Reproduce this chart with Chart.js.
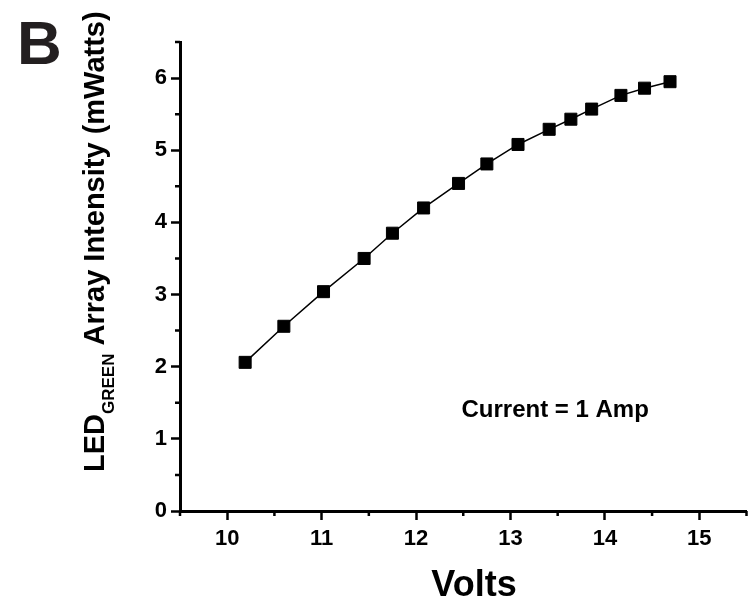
<!DOCTYPE html>
<html>
<head>
<meta charset="utf-8">
<script src="https://cdn.jsdelivr.net/npm/chart.js@4.4.1/dist/chart.umd.min.js"></script>
<style>
  html, body { margin: 0; padding: 0; background: #fff; overflow: hidden; }
  #wrap { position: relative; width: 756px; height: 601px; }
</style>
</head>
<body>
<div id="wrap"><canvas id="ledChart"></canvas></div>
<script>
// data
const volts = [10.19, 10.60, 11.02, 11.45, 11.75, 12.08, 12.45, 12.75, 13.08, 13.41, 13.64, 13.86, 14.17, 14.42, 14.69];
const intensity = [2.06, 2.56, 3.04, 3.50, 3.85, 4.20, 4.54, 4.81, 5.08, 5.29, 5.43, 5.57, 5.76, 5.86, 5.95];
const xTickLabels = [10, 11, 12, 13, 14, 15];
const yTickLabels = [0, 1, 2, 3, 4, 5, 6];

const FONT = '"Liberation Sans", Arial, sans-serif';

const points = volts.map((v, i) => ({ x: v, y: intensity[i] }));

// minor ticks, panel letter, axis titles, annotation
const extras = {
  id: 'extras',
  afterDraw(chart) {
    const { ctx, chartArea } = chart;
    const x = chart.scales.x, y = chart.scales.y;
    ctx.save();
    ctx.strokeStyle = '#000';
    ctx.lineWidth = 2.5;
    ctx.beginPath();
    x.ticks.forEach(t => {
      if (!xTickLabels.includes(t.value)) {
        const px = x.getPixelForValue(t.value);
        ctx.moveTo(px, chartArea.bottom);
        ctx.lineTo(px, chartArea.bottom + 5);
      }
    });
    y.ticks.forEach(t => {
      if (!yTickLabels.includes(t.value)) {
        const py = y.getPixelForValue(t.value);
        ctx.moveTo(chartArea.left, py);
        ctx.lineTo(chartArea.left - 5, py);
      }
    });
    ctx.stroke();

    ctx.fillStyle = '#000';
    ctx.textBaseline = 'alphabetic';

    // panel letter
    ctx.font = 'bold 62px ' + FONT;
    ctx.textAlign = 'left';
    ctx.fillStyle = '#231f20';
    ctx.fillText('B', 17, 64);
    ctx.fillStyle = '#000';

    // x title
    ctx.font = 'bold 36px ' + FONT;
    ctx.textAlign = 'center';
    ctx.fillText('Volts', 474, 596);

    // annotation
    ctx.font = 'bold 24px ' + FONT;
    ctx.textAlign = 'center';
    ctx.fillText('Current = 1 Amp', x.getPixelForValue(13.41) + 6, y.getPixelForValue(1.43) + 9);

    // y title with subscript
    ctx.translate(104, 472);
    ctx.rotate(-Math.PI / 2);
    ctx.textAlign = 'left';
    ctx.font = 'bold 29px ' + FONT;
    ctx.fillText('LED', 0, 0);
    let off = ctx.measureText('LED').width;
    ctx.font = 'bold 17px ' + FONT;
    ctx.fillText('GREEN', off, 10);
    off += ctx.measureText('GREEN').width;
    ctx.font = 'bold 29px ' + FONT;
    ctx.fillText(' Array Intensity (mWatts)', off, 0);
    ctx.restore();
  }
};

const config = {
  type: 'line',
  data: {
    datasets: [{
      data: points,
      borderColor: '#000',
      borderWidth: 1.5,
      backgroundColor: '#000',
      pointStyle: 'rect',
      pointRadius: 8.5,
      pointBorderWidth: 1,
      pointBorderColor: '#000',
      pointBackgroundColor: '#000',
      tension: 0,
      fill: false
    }]
  },
  options: {
    responsive: true,
    maintainAspectRatio: false,
    animation: false,
    layout: { padding: { top: 42, right: 0, bottom: 0, left: 0 } },
    plugins: {
      legend: { display: false },
      tooltip: { enabled: false }
    },
    scales: {
      x: {
        type: 'linear',
        min: 9.5,
        max: 15.5,
        afterFit: (s) => { s.height = 90; },
        border: { display: true, color: '#000', width: 3 },
        grid: {
          drawOnChartArea: false,
          tickLength: 9,
          tickWidth: 2.5,
          tickColor: (c) => xTickLabels.includes(c.tick.value) ? '#000' : 'rgba(0,0,0,0)'
        },
        ticks: {
          stepSize: 0.5,
          autoSkip: false,
          maxRotation: 0,
          padding: 6,
          color: '#000',
          font: { family: FONT, size: 22, weight: 'bold' },
          callback: (v) => xTickLabels.includes(v) ? String(v) : ''
        }
      },
      y: {
        type: 'linear',
        min: 0,
        max: 6.5,
        afterFit: (s) => { s.width = 180; },
        border: { display: true, color: '#000', width: 3 },
        grid: {
          drawOnChartArea: false,
          tickLength: 9,
          tickWidth: 2.5,
          tickColor: (c) => yTickLabels.includes(c.tick.value) ? '#000' : 'rgba(0,0,0,0)'
        },
        ticks: {
          stepSize: 0.5,
          autoSkip: false,
          padding: 4,
          color: '#000',
          font: { family: FONT, size: 22, weight: 'bold' },
          callback: (v) => yTickLabels.includes(v) ? String(v) : ''
        }
      }
    }
  },
  plugins: [extras]
};

let myChart = new Chart(document.getElementById('ledChart'), config);
</script>
</body>
</html>
